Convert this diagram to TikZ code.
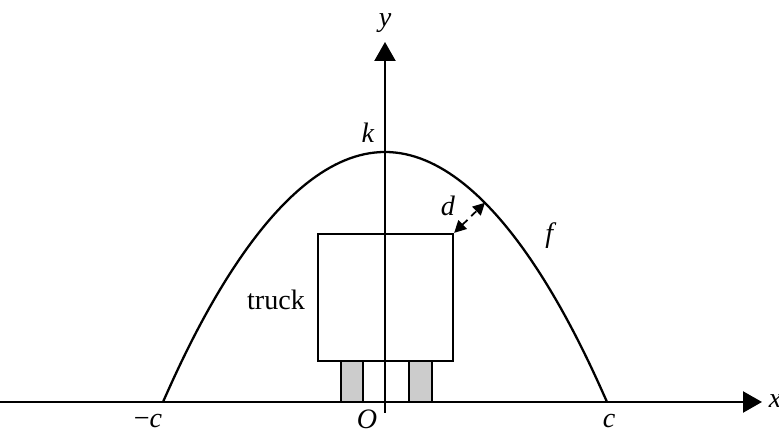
\documentclass[tikz,border=0pt]{standalone}
\usepackage{fontspec}
\setmainfont{Liberation Serif}
\usetikzlibrary{arrows.meta}
\tikzset{
  axisline/.style={line width=1.3pt, -{Triangle[length=3.8mm, width=4.2mm]}},
  arch/.style={line width=1.3pt},
  truckbox/.style={rectangle, draw, line width=1.3pt, minimum width=2.70cm, minimum height=2.54cm, inner sep=0pt},
  wheel/.style={rectangle, draw, line width=1.3pt, fill=black!20, minimum width=0.45cm, minimum height=0.82cm, inner sep=0pt},
  clearance/.style={line width=1pt, dash pattern=on 4pt off 3pt, {Triangle[length=2.4mm, width=2.4mm]}-{Triangle[length=2.4mm, width=2.4mm]}},
  lbl/.style={inner sep=0pt, font=\fontsize{16}{19}\selectfont}
}

\begin{document}
\begin{tikzpicture}
  \useasboundingbox (-7.70,-0.60) rectangle (7.88,8.04);

  % axes
  \coordinate (xstart) at (-7.70,0);
  \coordinate (xend) at (7.54,0);
  \coordinate (ystart) at (0,-0.22);
  \coordinate (yend) at (0,7.20);
  \draw[axisline] (xstart) -- (xend);
  \draw[axisline] (ystart) -- (yend);

  % the arch f
  \draw[arch] (-4.44,0) parabola bend (0,5) (4.44,0);

  % truck and wheels
  \node[truckbox] (truck) at (0.01,2.09) {};
  \node[wheel] (wheelL) at (-0.66,0.41) {};
  \node[wheel] (wheelR) at (0.71,0.41) {};

  % clearance d
  \coordinate (archpt) at (2.0,3.985);
  \draw[clearance] (truck.north east) -- (archpt);

  % labels
  \node[lbl] (dlbl) at (1.26,3.92) {\textit{d}};
  \node[lbl] (klbl) at (-0.34,5.38) {\textit{k}};
  \node[lbl] (flbl) at (3.32,3.32) {\textit{f}};
  \node[lbl] (trucklbl) at (-2.18,2.04) {truck};
  \node[lbl] (mclbl) at (-4.74,-0.38) {−\textit{c}};
  \node[lbl] (olbl) at (-0.36,-0.35) {\textit{O}};
  \node[lbl] (clbl) at (4.48,-0.38) {\textit{c}};
  \node[lbl] (xlbl) at (7.80,0.02) {\textit{x}};
  \node[lbl] (ylbl) at (0,7.58) {\textit{y}};
\end{tikzpicture}
\end{document}
